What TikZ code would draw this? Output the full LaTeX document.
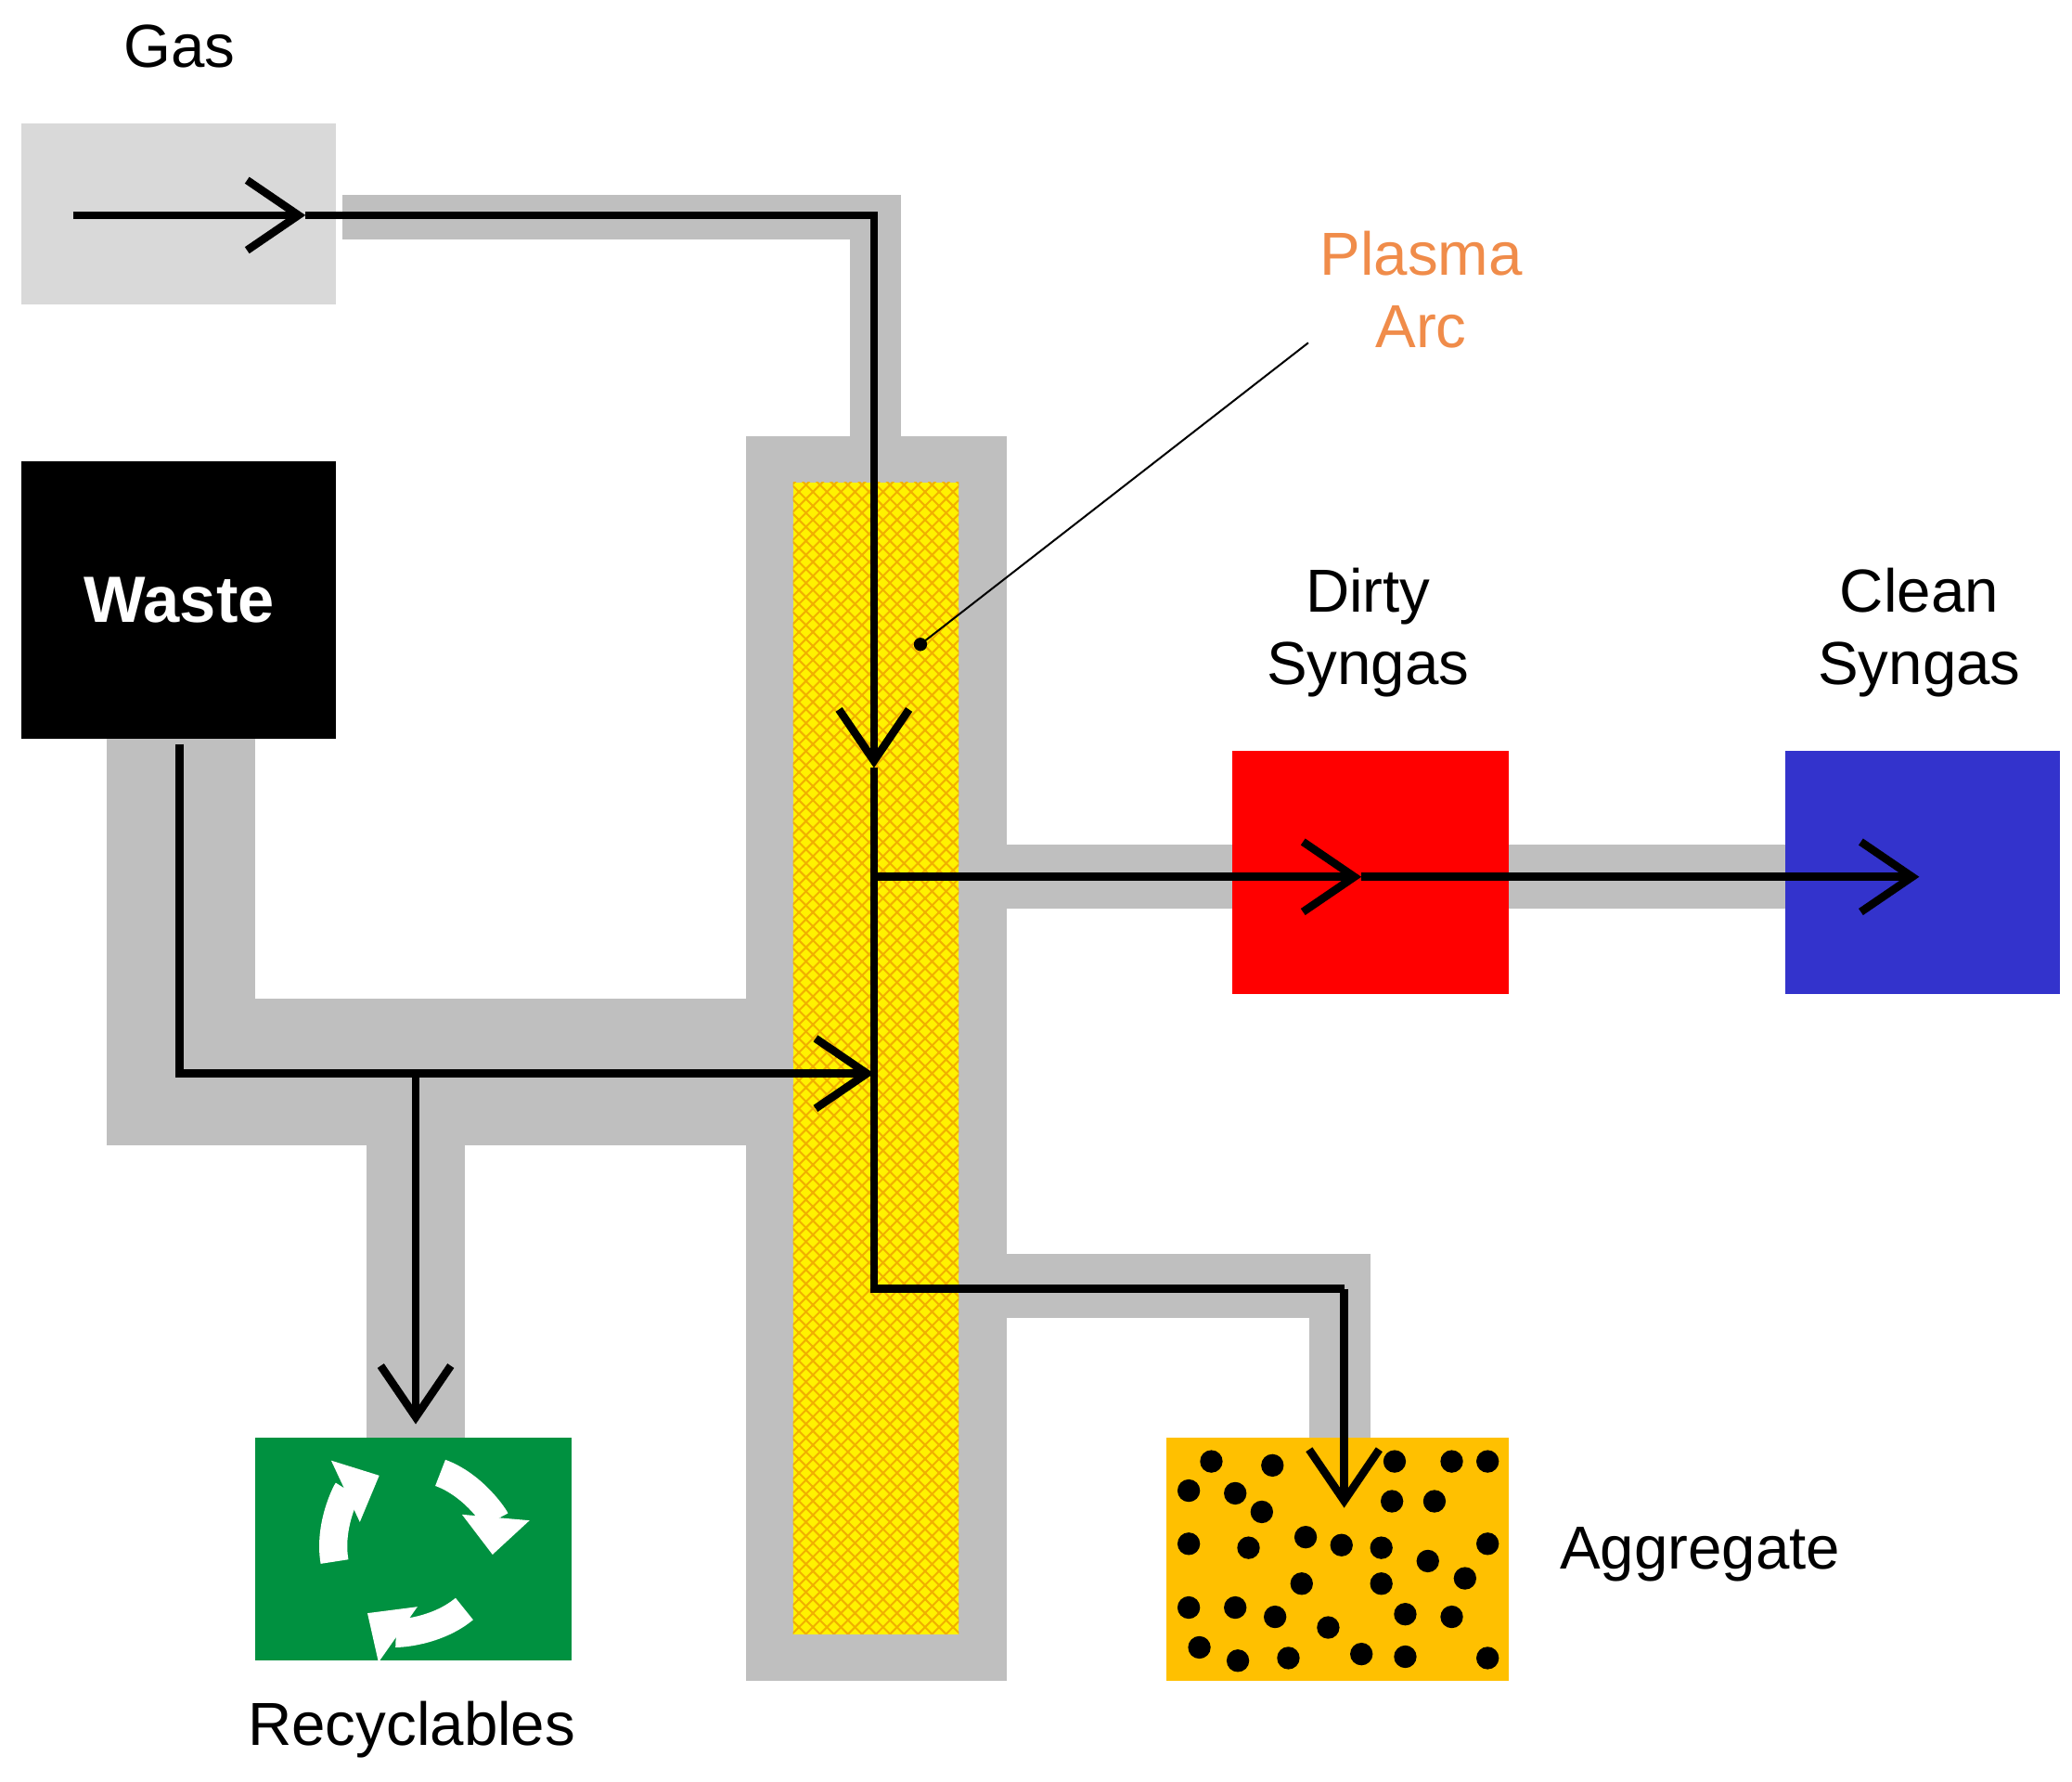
\documentclass[tikz,border=0pt]{standalone}
\usepackage{fontspec}
\setmainfont{Liberation Sans}
\usetikzlibrary{arrows.meta,patterns}
\definecolor{pipe}{HTML}{BFBFBF}
\definecolor{gasbox}{HTML}{D9D9D9}
\definecolor{recg}{HTML}{009140}
\definecolor{cblue}{HTML}{3333CC}
\definecolor{aggr}{HTML}{FFC000}
\definecolor{plasma}{HTML}{F08C4A}
\definecolor{hatch}{HTML}{F0B000}
\tikzset{
 flow/.style={line width=1.7pt,black},
 arr/.style={flow,-{Straight Barb[length=11pt,width=15pt,line width=1.7pt]}},
 lbl/.style={font=\fontsize{13}{15.5}\selectfont,align=center}
}
\begin{document}
\begin{tikzpicture}[x=0.01cm,y=-0.01cm]
\useasboundingbox (0,0) rectangle (1560,1341);
\fill[white] (0,0) rectangle (1560,1341);
% pipes
\fill[pipe] (258,147) rectangle (678,180);
\fill[pipe] (640,147) rectangle (678,330);
\fill[pipe] (80,556) rectangle (192,862);
\fill[pipe] (80,752) rectangle (565,862);
\fill[pipe] (276,850) rectangle (350,1084);
\fill[pipe] (755,636) rectangle (930,684);
\fill[pipe] (1134,636) rectangle (1346,684);
\fill[pipe] (755,944) rectangle (1032,992);
\fill[pipe] (986,944) rectangle (1032,1084);
% column
\fill[pipe] (562,328) rectangle (758,1265);
\fill[yellow] (597,363) rectangle (722,1230);
\fill[pattern=crosshatch,pattern color=hatch] (597,363) rectangle (722,1230);
% boxes
\fill[gasbox] (16,93) rectangle (253,229);
\fill[black] (16,347) rectangle (253,556);
\node[text=white,font=\bfseries\fontsize{14}{16}\selectfont] (waste) at (135,452) {Waste};
\fill[recg] (192,1082) rectangle (430,1250);
\fill[red] (928,565) rectangle (1136,748);
\fill[cblue] (1344,565) rectangle (1551,748);
\fill[aggr] (878,1082) rectangle (1136,1265);
\foreach \x/\y in {912/1100,958/1103,1050/1100,1093/1100,1120/1100,895/1122,930/1124,950/1138,1048/1130,1080/1130,895/1162,940/1165,983/1157,1010/1163,1040/1165,1075/1175,1120/1162,980/1192,1040/1192,1103/1188,895/1210,930/1210,960/1217,1000/1225,1058/1215,1093/1217,903/1240,932/1250,970/1248,1025/1245,1058/1247,1120/1248}
  \fill (\x,\y) circle[radius=0.085cm];
% recycle icon
\foreach \a in {90,210,330}{
  \draw[white,line width=6pt,-{Triangle[length=8pt,width=14pt]}] (311,1165) ++(\a+100:0.6cm) arc[start angle=\a+100,end angle=\a+25,radius=0.6cm];
}
% labels
\node[lbl] (gas) at (135,35) {Gas};
\node[lbl] (recy) at (310,1302) {Recyclables};
\node[lbl] (dirty) at (1030,476) {Dirty\\Syngas};
\node[lbl] (clean) at (1445,476) {Clean\\Syngas};
\node[lbl,anchor=west] (agg) at (1162,1170) {Aggregate};
\node[lbl,text=plasma] (pa) at (1070,218) {Plasma\\Arc};
\coordinate (pdot) at (693,485);
\draw[line width=0.4pt] (985,258) -- (pdot);
\fill (pdot) circle[radius=0.05cm];
% flows
\coordinate (g0) at (55,162); \coordinate (g1) at (230,162);
\coordinate (g2) at (658,162); \coordinate (g3) at (658,578);
\coordinate (j1) at (658,660); \coordinate (j2) at (658,808); \coordinate (j3) at (658,970);
\coordinate (a1) at (1012,970); \coordinate (a2) at (1012,1135);
\coordinate (d1) at (1025,660); \coordinate (c1) at (1445,660);
\coordinate (w0) at (135,560); \coordinate (w1) at (135,808); \coordinate (b1) at (313,808); \coordinate (b2) at (313,1072);
\draw[arr] (g0) -- (g1);
\draw[arr] (g1) -- (g2) -- (g3);
\draw[flow] (g3) -- (j3) -- (a1);
\draw[arr] (a1) -- (a2);
\draw[arr] (j1) -- (d1);
\draw[arr] (d1) -- (c1);
\draw[arr] (w0) -- (w1) -- (j2);
\draw[arr] (b1) -- (b2);
\end{tikzpicture}
\end{document}
